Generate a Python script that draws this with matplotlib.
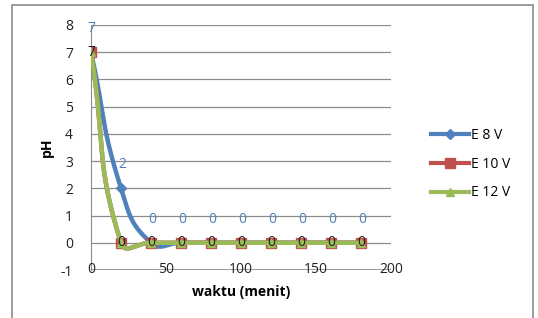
import numpy as np
import matplotlib
matplotlib.use("Agg")
import matplotlib.pyplot as plt
from matplotlib.patches import Rectangle

# ---- data ----
waktu = [0, 20, 40, 60, 80, 100, 120, 140, 160, 180]
ph_8v = [7, 2, 0, 0, 0, 0, 0, 0, 0, 0]
ph_10v = [7, 0, 0, 0, 0, 0, 0, 0, 0, 0]
ph_12v = [7, 0, 0, 0, 0, 0, 0, 0, 0, 0]
series_names = ["E 8 V", "E 10 V", "E 12 V"]
y_ticks = [-1, 0, 1, 2, 3, 4, 5, 6, 7, 8]
x_ticks = [0, 50, 100, 150, 200]

plt.rcParams['font.family'] = ['Open Sans', 'DejaVu Sans']
plt.rcParams['axes.unicode_minus'] = False

W, H = 538, 318
fig = plt.figure(figsize=(W / 100, H / 100), dpi=100)
ax = fig.add_axes([91 / W, 1 - 270 / H, 300 / W, 245 / H])
ax.set_xlim(0, 200)
ax.set_ylim(-1, 8)

# pixel scale factors for Excel-like smoothing in screen space
sx = 300 / 200
sy = 245 / 9


def excel_smooth(xs, ys, n=40):
    P = np.column_stack([np.array(xs, float) * sx, np.array(ys, float) * sy])
    out = []
    m = len(P)
    for i in range(m - 1):
        p0 = P[i - 1] if i > 0 else P[i]
        p1, p2 = P[i], P[i + 1]
        p3 = P[i + 2] if i + 2 < m else P[i + 1]
        d01 = np.linalg.norm(p1 - p0)
        d12 = np.linalg.norm(p2 - p1)
        d23 = np.linalg.norm(p3 - p2)
        c1 = p1 + (p2 - p0) * (d12 / (d01 + d12) if d01 + d12 > 0 else 0) * 0.5
        c2 = p2 - (p3 - p1) * (d12 / (d12 + d23) if d12 + d23 > 0 else 0) * 0.5
        t = np.linspace(0, 1, n)[:, None]
        seg = ((1 - t) ** 3) * p1 + 3 * ((1 - t) ** 2) * t * c1 + 3 * (1 - t) * t ** 2 * c2 + t ** 3 * p2
        out.append(seg if i == 0 else seg[1:])
    pts = np.vstack(out)
    return pts[:, 0] / sx, pts[:, 1] / sy


blue = '#4F81BD'
red = '#C0504D'
green = '#9BBB59'

for yv in y_ticks:
    ax.axhline(yv, color='#8C8C8C', lw=0.9, zorder=1)

# (values, colour, marker, marker size, line z, marker z)
specs = [(ph_8v, blue, 'D', 5.5, 3, 3.1),
         (ph_10v, red, 's', 7.5, 4, 4.1),
         (ph_12v, green, '^', 6, 5, 5.1)]
handles = []
for (vals, col, mk, ms, zl, zm), name in zip(specs, series_names):
    xs, ys = excel_smooth(waktu, vals)
    ax.plot(xs, ys, color=col, lw=3.2, zorder=zl, solid_capstyle='round')
    ax.plot(waktu, vals, linestyle='none', marker=mk, ms=ms, color=col, zorder=zm)
    h, = ax.plot([], [], color=col, lw=3, marker=mk, ms=ms)
    handles.append(h)

# data labels
for x, v in zip(waktu, ph_8v):
    ax.annotate(str(v), (x, v), xytext=(1 if x else 0, 17), textcoords='offset points',
                ha='center', va='center', color=blue, fontsize=10, zorder=7,
                annotation_clip=False)
for x, v in zip(waktu, ph_10v):
    ax.annotate(str(v), (x, v), xytext=(0, 0), textcoords='offset points',
                ha='center', va='center', color='#222222', fontsize=10, zorder=7)

for s in ['top', 'right', 'bottom']:
    ax.spines[s].set_visible(False)
ax.spines['left'].set_color('#8C8C8C')
ax.spines['left'].set_zorder(1)
ax.axhline(-1, color='#8C8C8C', lw=1.2, zorder=1)

ax.set_yticks(y_ticks)
ax.set_xticks(x_ticks)
ax.tick_params(axis='y', length=0, pad=13, labelsize=10, labelcolor='#222222')
ax.tick_params(axis='x', length=0, pad=-6, labelsize=10, labelcolor='#222222')

ax.set_xlabel('waktu (menit)', fontsize=10, fontweight='bold', labelpad=6)
ax.set_ylabel('pH', fontsize=10, fontweight='bold', labelpad=5)

fig.legend(handles, series_names, loc='center left', bbox_to_anchor=(425 / W, 1 - 164 / H),
           frameon=False, fontsize=10, handlelength=2.8, handletextpad=0.1,
           labelspacing=1.0, borderaxespad=0)

fig.patches.append(Rectangle((12 / W, -0.02), (533 - 12) / W, 1 - 5 / H + 0.02,
                             transform=fig.transFigure, fill=False,
                             edgecolor='#8C8C8C', lw=1.2))

fig.savefig('out.png', dpi=100)
